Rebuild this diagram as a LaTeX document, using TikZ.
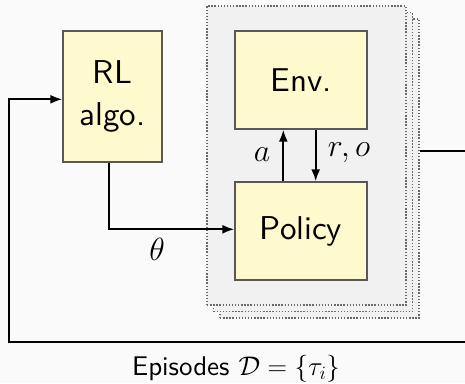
\RequirePackage{fix-cm}
\documentclass[tikz,border=0pt]{standalone}
\usepackage{fontspec}
\setsansfont{lmsans10-regular.otf}
\usetikzlibrary{arrows.meta}
\definecolor{bgcolor}{RGB}{250,250,250}
\definecolor{stackfill}{RGB}{241,241,241}
\definecolor{dotgray}{RGB}{105,105,105}
\definecolor{boxfill}{RGB}{255,249,206}
\definecolor{boxedge}{RGB}{88,88,88}
\begin{document}
\begin{tikzpicture}[x=1pt,y=-1pt,
  blk/.style={draw=boxedge, fill=boxfill, line width=1.4pt, inner sep=0pt,
    font=\fontsize{33}{42}\sffamily, align=center},
  stackbox/.style={draw=dotgray, fill=stackfill, line width=1.4pt,
    dash pattern=on 1.4pt off 1.7pt, inner sep=0pt,
    minimum width=199pt, minimum height=299pt},
  flow/.style={line width=1.9pt, -{Latex[length=12pt,width=9pt]}},
  lbl/.style={font=\fontsize{32}{36}\selectfont},
  caption/.style={font=\fontsize{27}{32}\sffamily}]
\clip (0,0) rectangle (465,383);
\fill[bgcolor] (0,0) rectangle (465,383);

% stack of parallel rollouts
\node[stackbox] (runs3) at (319.5,168.5) {};
\node[stackbox] (runs2) at (313,162) {};
\node[stackbox] (runs)  at (306.5,155.5) {};

% blocks
\node[blk, minimum width=99pt, minimum height=131pt] (rl) at (112.5,96.5) {RL\\algo.};
\node[blk, minimum width=132pt, minimum height=98pt] (env) at (301,80) {Env.};
\node[blk, minimum width=132pt, minimum height=98pt] (pol) at (301,231) {Policy};

% interaction between policy and environment
\draw[flow] ([xshift=-17.7pt]pol.north) -- ([xshift=-17.7pt]env.south);
\draw[flow] ([xshift=14.7pt]env.south) -- ([xshift=14.7pt]pol.north);
\node[lbl] (la) at (262,155) {$a$};
\node[lbl] (lro) at (349,153) {$r,o$};

% parameters to the policy
\draw[flow] ([xshift=-3.5pt]rl.south) |- ([yshift=1.7pt]pol.west);
\node[lbl] (lth) at (157,249) {$\theta$};

% collected episodes back to the learner
\coordinate (far) at (490,151);
\coordinate (low) at (9,342);
\draw[flow] ([yshift=17.5pt]runs3.east) -- (far) |- (low) |- ([yshift=-2.8pt]rl.west);
\node[caption, anchor=base] (eps) at (236,375) {Episodes $\mathcal{D}=\{\tau_i\}$};
\end{tikzpicture}
\end{document}
